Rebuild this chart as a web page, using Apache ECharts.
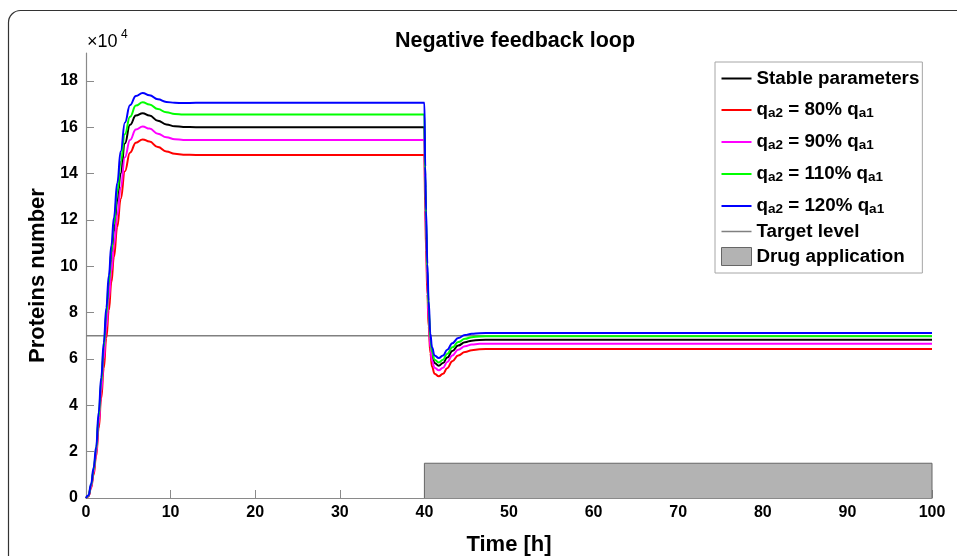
<!DOCTYPE html>
<html>

<head>
  <meta charset="UTF-8">
  <title>Negative feedback loop</title>
  <style>
  html, body {
    margin: 0;
    padding: 0;
    background: #fff;
  }

  #main {
    width: 957px;
    height: 556px;
  }
  </style>
  <script src="https://cdn.jsdelivr.net/npm/echarts@6/dist/echarts.min.js"></script>
</head>

<body>
  <div id="main"></div>
  <script type="text/javascript">
  // time [h]
  var time = [0, 0.3, 0.6, 0.9, 1.2, 1.5, 1.8, 2.1, 2.4, 2.7,
    3.0, 3.3, 3.7, 4.1, 4.6, 5.2, 5.9, 6.7, 7.5, 8.5,
    9.5, 10.5, 11.5, 13, 20, 30, 39.9, 40,
    40.1, 40.2, 40.35, 40.5, 40.7, 40.9, 41.2, 41.7, 42.2, 42.7,
    43.3, 44, 44.8, 45.6, 46.5, 48, 60, 80, 100];

  // proteins number, x 10^4
  var stable = [0, 0.09, 0.5, 1.15, 2.0, 3.35, 4.8, 6.3, 7.7, 9.0,
    10.3, 11.5, 12.8, 14.0, 15.3, 16.1, 16.5, 16.6, 16.5, 16.28,
    16.12, 16.04, 16.01, 16.0, 16.0, 16.0, 16.0, 16.0,
    13.4, 11.6, 9.5, 8.0, 6.75, 6.15, 5.83, 5.71, 5.82, 6.06,
    6.34, 6.58, 6.72, 6.79, 6.82, 6.83, 6.83, 6.83, 6.83];
  var q80 = [0, 0.07, 0.43, 1.0, 1.8, 3.0, 4.3, 5.6, 6.9, 8.1,
    9.3, 10.4, 11.7, 12.9, 14.1, 14.9, 15.33, 15.47, 15.38, 15.14,
    14.95, 14.85, 14.81, 14.8, 14.8, 14.8, 14.8, 14.8,
    12.4, 10.7, 8.8, 7.4, 6.25, 5.67, 5.36, 5.25, 5.36, 5.6,
    5.9, 6.15, 6.3, 6.38, 6.42, 6.43, 6.43, 6.43, 6.43];
  var q90 = [0, 0.08, 0.47, 1.1, 1.9, 3.2, 4.6, 6.0, 7.35, 8.6,
    9.8, 10.9, 12.2, 13.4, 14.7, 15.45, 15.9, 16.03, 15.94, 15.72,
    15.56, 15.48, 15.45, 15.45, 15.45, 15.45, 15.45, 15.45,
    12.9, 11.2, 9.2, 7.7, 6.5, 5.92, 5.62, 5.51, 5.62, 5.87,
    6.15, 6.4, 6.55, 6.62, 6.65, 6.66, 6.66, 6.66, 6.66];
  var q110 = [0, 0.1, 0.55, 1.2, 2.1, 3.5, 5.0, 6.5, 7.95, 9.3,
    10.6, 11.8, 13.2, 14.5, 15.7, 16.45, 16.93, 17.07, 16.98, 16.78,
    16.64, 16.57, 16.55, 16.55, 16.55, 16.55, 16.55, 16.55,
    13.9, 12.0, 9.8, 8.2, 6.9, 6.3, 5.97, 5.85, 5.97, 6.22,
    6.5, 6.73, 6.87, 6.94, 6.97, 6.98, 6.98, 6.98, 6.98];
  var q120 = [0, 0.12, 0.6, 1.3, 2.2, 3.7, 5.2, 6.7, 8.2, 9.6,
    10.9, 12.1, 13.6, 14.95, 16.2, 16.95, 17.35, 17.47, 17.38, 17.2,
    17.09, 17.05, 17.04, 17.05, 17.05, 17.05, 17.05, 17.05,
    14.3, 12.4, 10.1, 8.5, 7.1, 6.5, 6.15, 6.04, 6.15, 6.4,
    6.68, 6.9, 7.03, 7.09, 7.11, 7.12, 7.12, 7.12, 7.12];

  var targetLevel = 7;
  var drugStart = 40;
  var drugEnd = 100;
  var drugHeight = 1.5;

  var yTicks = [0, 2, 4, 6, 8, 10, 12, 14, 16, 18];

  var names = ['Stable parameters', 'qa2 = 80% qa1', 'qa2 = 90% qa1',
    'qa2 = 110% qa1', 'qa2 = 120% qa1', 'Target level', 'Drug application'];
  var richNames = {
    'Stable parameters': '{m|Stable parameters}',
    'qa2 = 80% qa1': '{m|q}{s|a2}{m| = 80% q}{s|a1}',
    'qa2 = 90% qa1': '{m|q}{s|a2}{m| = 90% q}{s|a1}',
    'qa2 = 110% qa1': '{m|q}{s|a2}{m| = 110% q}{s|a1}',
    'qa2 = 120% qa1': '{m|q}{s|a2}{m| = 120% q}{s|a1}',
    'Target level': '{m|Target level}',
    'Drug application': '{m|Drug application}'
  };

  // plain line icons for the legend (tiny slivers keep the 30x18 box)
  var lineIcon = 'path://M0,0h30v0.01h-30zM0,8h30v2h-30zM0,17.99h30v0.01h-30z';
  var thinIcon = 'path://M0,0h30v0.01h-30zM0,8.3h30v1.4h-30zM0,17.99h30v0.01h-30z';

  function pairs(ys) {
    var out = [];
    for (var i = 0; i < time.length; i++) {
      out.push([time[i], ys[i]]);
    }
    return out;
  }

  function curve(name, ys, color) {
    return {
      name: name,
      type: 'line',
      data: pairs(ys),
      symbol: 'none',
      smooth: 0.45,
      smoothMonotone: 'x',
      lineStyle: {
        color: color,
        width: 2
      },
      itemStyle: {
        color: color
      },
      z: 3
    };
  }

  var myChart = echarts.init(document.getElementById('main'));

  var axisGray = '#8a8a8a';

  var option = {
    animation: false,
    backgroundColor: '#fff',
    title: {
      text: 'Negative feedback loop',
      left: 510,
      top: 25,
      textAlign: 'center',
      textStyle: {
        fontFamily: 'Liberation Sans',
        fontSize: 21.5,
        fontWeight: 'bold',
        color: '#000'
      }
    },
    graphic: [{
      type: 'rect',
      shape: {
        x: 8.5,
        y: 10.5,
        width: 1100,
        height: 700,
        r: 12
      },
      style: {
        fill: 'none',
        stroke: '#333',
        lineWidth: 1.2
      },
      silent: true
    }, {
      type: 'text',
      left: 87,
      top: 33,
      style: {
        text: '×10',
        font: '18px "Liberation Sans"',
        fill: '#000'
      }
    }, {
      type: 'text',
      left: 121,
      top: 29,
      style: {
        text: '4',
        font: '12px "Liberation Sans"',
        fill: '#000'
      }
    }],
    grid: {
      left: 86,
      right: 25,
      top: 53,
      bottom: 58,
      outerBoundsMode: 'none'
    },
    legend: {
      orient: 'vertical',
      left: 715,
      top: 62,
      padding: [7, 3, 7, 6],
      itemGap: 6,
      itemWidth: 30,
      itemHeight: 18,
      backgroundColor: '#fff',
      borderColor: '#a6a6a6',
      borderWidth: 1,
      borderRadius: 0,
      data: [
        { name: names[0], icon: lineIcon },
        { name: names[1], icon: lineIcon },
        { name: names[2], icon: lineIcon },
        { name: names[3], icon: lineIcon },
        { name: names[4], icon: lineIcon },
        { name: names[5], icon: thinIcon },
        {
          name: names[6],
          icon: 'rect',
          itemStyle: {
            color: '#b3b3b3',
            borderColor: '#666',
            borderWidth: 1
          }
        }
      ],
      formatter: function(name) {
        return richNames[name];
      },
      textStyle: {
        rich: {
          m: {
            fontFamily: 'Liberation Sans',
            fontSize: 18.8,
            fontWeight: 'bold',
            color: '#000',
            lineHeight: 20
          },
          s: {
            fontFamily: 'Liberation Sans',
            fontSize: 13.5,
            fontWeight: 'bold',
            color: '#000',
            padding: [12, 0, 0, 0],
            lineHeight: 14,
            verticalAlign: 'bottom'
          }
        }
      }
    },
    xAxis: {
      type: 'value',
      min: 0,
      max: 100,
      interval: 10,
      name: 'Time [h]',
      nameLocation: 'middle',
      nameGap: 36,
      nameTextStyle: {
        fontFamily: 'Liberation Sans',
        fontSize: 22,
        fontWeight: 'bold',
        color: '#000'
      },
      axisLine: {
        onZero: false,
        lineStyle: {
          color: axisGray,
          width: 1.2
        }
      },
      axisTick: {
        inside: true,
        length: 8,
        lineStyle: {
          color: axisGray
        }
      },
      axisLabel: {
        margin: 7,
        fontFamily: 'Liberation Sans',
        fontSize: 16,
        fontWeight: 'bold',
        color: '#000'
      },
      splitLine: {
        show: false
      }
    },
    yAxis: {
      type: 'value',
      min: 0,
      max: 19.2,
      name: 'Proteins number',
      nameLocation: 'middle',
      nameGap: 35,
      nameTextStyle: {
        fontFamily: 'Liberation Sans',
        fontSize: 22,
        fontWeight: 'bold',
        color: '#000'
      },
      axisLine: {
        show: true,
        lineStyle: {
          color: axisGray,
          width: 1.2
        }
      },
      axisTick: {
        show: true,
        inside: true,
        length: 8,
        customValues: yTicks,
        lineStyle: {
          color: axisGray
        }
      },
      axisLabel: {
        margin: 8,
        customValues: yTicks,
        fontFamily: 'Liberation Sans',
        fontSize: 16,
        fontWeight: 'bold',
        color: '#000'
      },
      splitLine: {
        show: false
      }
    },
    series: [{
        name: 'Target level',
        type: 'line',
        data: [[0, targetLevel], [100, targetLevel]],
        symbol: 'none',
        lineStyle: {
          color: '#808080',
          width: 1.5
        },
        itemStyle: {
          color: '#808080'
        },
        z: 2
      }, {
        name: 'Drug application',
        type: 'line',
        data: [[drugStart, 0], [drugStart, drugHeight], [drugEnd, drugHeight], [drugEnd, 0]],
        symbol: 'none',
        lineStyle: {
          color: '#666',
          width: 1
        },
        areaStyle: {
          color: '#b3b3b3',
          opacity: 1
        },
        itemStyle: {
          color: '#b3b3b3'
        },
        z: 1
      },
      curve('Stable parameters', stable, '#000000'),
      curve('qa2 = 80% qa1', q80, '#ff0000'),
      curve('qa2 = 90% qa1', q90, '#ff00ff'),
      curve('qa2 = 110% qa1', q110, '#00ff00'),
      curve('qa2 = 120% qa1', q120, '#0000ff')
    ]
  };

  myChart.setOption(option);
  </script>
</body>

</html>
